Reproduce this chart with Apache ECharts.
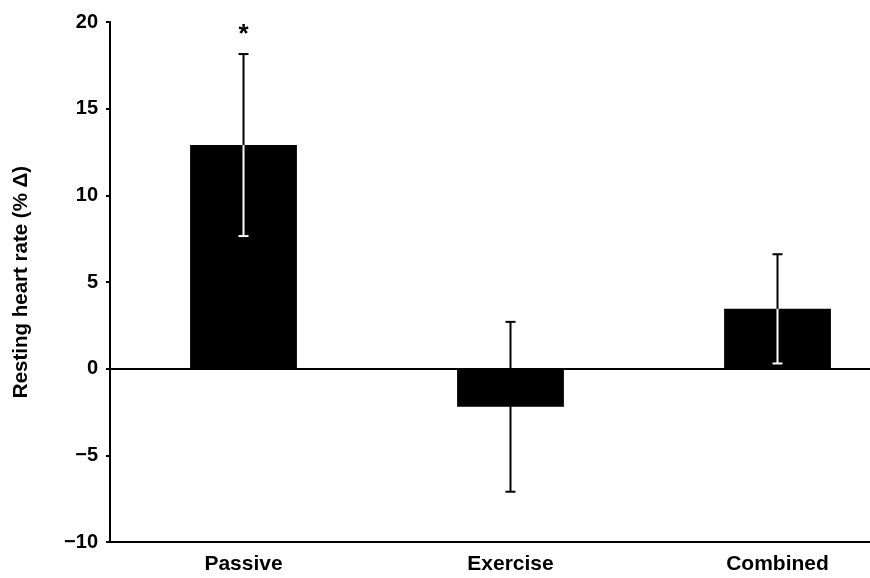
<!DOCTYPE html>
<html>
<head>
<meta charset="utf-8">
<script src="https://cdn.jsdelivr.net/npm/echarts@6/dist/echarts.min.js"></script>
<style>html,body{margin:0;padding:0;background:#fff;overflow:hidden;width:870px;height:578px;}#c{width:911px;height:578px;}</style>
</head>
<body>
<div id="c"></div>
<script>
const categories = ['Passive', 'Exercise', 'Combined'];
const means = [12.9, -2.2, 3.45];
const errors = [5.25, 4.9, 3.15];
const significance = ['*', '', ''];
const yTicks = { min: -10, max: 20, interval: 5 };
const yTitle = 'Resting heart rate (% \u0394)';

const chart = echarts.init(document.getElementById('c'), null, { renderer: 'canvas' });
const font = 'Arial, "Liberation Sans", Helvetica, sans-serif';

const errData = categories.map((c, i) => [i, means[i], errors[i], significance[i]]);

chart.setOption({
  animation: false,
  backgroundColor: '#fff',
  grid: { left: 110, right: 0, top: 22, bottom: 36, containLabel: false },
  xAxis: {
    type: 'category',
    data: categories,
    axisLine: { onZero: false, lineStyle: { color: '#000', width: 2 } },
    axisTick: { show: false },
    axisLabel: { color: '#000', fontWeight: 'bold', fontSize: 21, fontFamily: font, margin: 12 }
  },
  yAxis: {
    type: 'value',
    min: yTicks.min, max: yTicks.max, interval: yTicks.interval,
    name: yTitle,
    nameLocation: 'middle',
    nameGap: 78,
    nameTextStyle: { color: '#000', fontWeight: 'bold', fontSize: 20.5, fontFamily: font },
    axisLine: { show: true, lineStyle: { color: '#000', width: 2 } },
    axisTick: { show: true, length: 4, lineStyle: { color: '#000', width: 2 } },
    splitLine: { show: false },
    axisLabel: {
      color: '#000', fontWeight: 'bold', fontSize: 20, fontFamily: font, margin: 12,
      formatter: v => (v < 0 ? '\u2212' + Math.abs(v) : String(v))
    }
  },
  series: [
    {
      type: 'bar',
      data: means,
      barWidth: '40%',
      itemStyle: { color: '#000' },
      markLine: {
        silent: true,
        symbol: 'none',
        label: { show: false },
        lineStyle: { color: '#000', width: 2, type: 'solid' },
        data: [{ yAxis: 0 }]
      }
    },
    {
      type: 'custom',
      data: errData,
      z: 10,
      renderItem: function (params, api) {
        const i = api.value(0), m = api.value(1), e = api.value(2);
        const sig = errData[params.dataIndex][3];
        const top = api.coord([i, m + e]);
        const bot = api.coord([i, m - e]);
        const mid = api.coord([i, m]);
        const capW = 5;
        const x = top[0];
        const lowColor = m > 0 ? '#fff' : '#000';
        const children = [
          { type: 'line', shape: { x1: x, y1: mid[1], x2: x, y2: top[1] }, style: { stroke: '#000', lineWidth: 2 } },
          { type: 'line', shape: { x1: x, y1: mid[1], x2: x, y2: bot[1] }, style: { stroke: lowColor, lineWidth: 2 } },
          { type: 'line', shape: { x1: x - capW, y1: top[1], x2: x + capW, y2: top[1] }, style: { stroke: '#000', lineWidth: 2 } },
          { type: 'line', shape: { x1: x - capW, y1: bot[1], x2: x + capW, y2: bot[1] }, style: { stroke: lowColor, lineWidth: 2 } }
        ];
        if (sig) {
          children.push({ type: 'text', x: x, y: top[1] - 6, style: { text: sig, fill: '#000', font: 'bold 26px ' + font, align: 'center', verticalAlign: 'bottom' } });
        }
        return { type: 'group', children: children };
      }
    }
  ]
});
</script>
</body>
</html>
